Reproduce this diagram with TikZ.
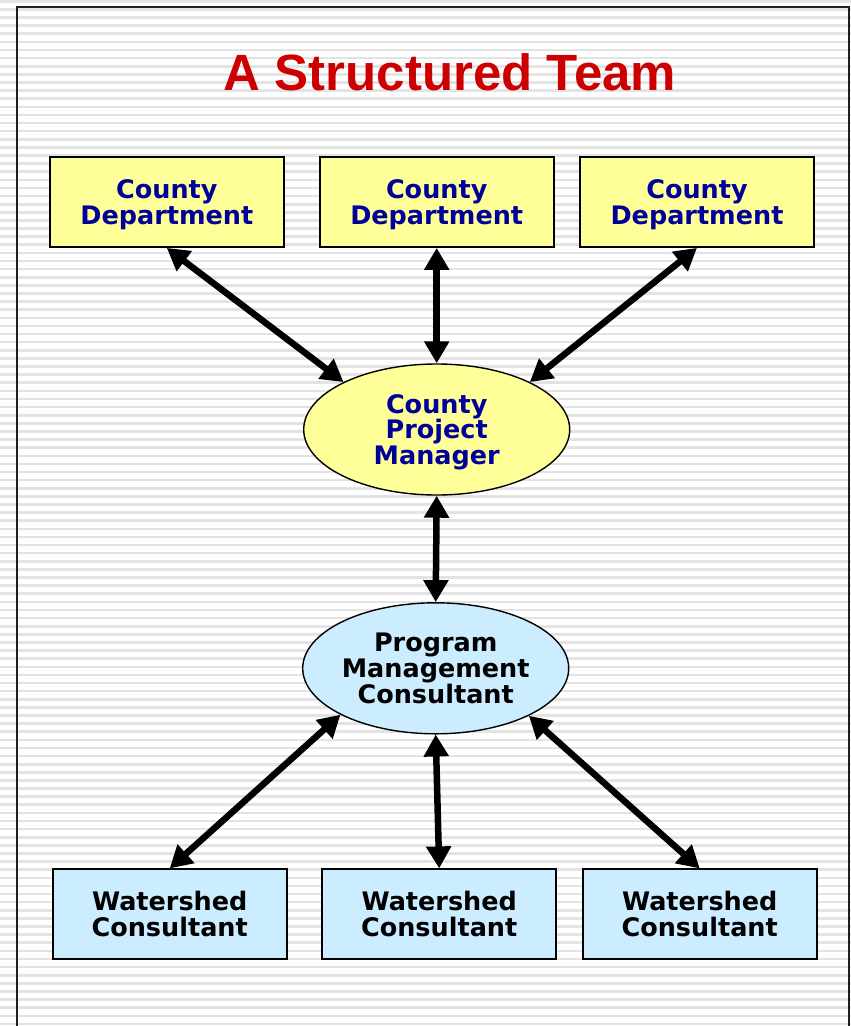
\documentclass[tikz,border=0pt]{standalone}
\usepackage{fontspec}
\usetikzlibrary{shapes.geometric,arrows.meta}
\newfontfamily\dvfont{DejaVu Sans}
\newfontfamily\lsfont{Liberation Sans}
\definecolor{yel}{HTML}{FFFF99}
\definecolor{lblue}{HTML}{CCECFF}
\definecolor{navy}{HTML}{000099}
\definecolor{ttred}{HTML}{CC0000}
\definecolor{stripe}{HTML}{E3E3E3}
\begin{document}
\begin{tikzpicture}[x=1pt,y=-1pt,
  boxnode/.style={draw=black, line width=1.8pt, rectangle, minimum width=234pt, minimum height=90pt,
    inner sep=0pt, align=center, font=\dvfont\bfseries\fontsize{25.5}{26}\selectfont},
  ellnode/.style={ellipse, draw=black, line width=1.4pt, minimum width=266pt, minimum height=131pt,
    inner xsep=-20pt, inner ysep=0pt, align=center, font=\dvfont\bfseries\fontsize{25.5}{25.7}\selectfont},
  ybox/.style={boxnode, fill=yel, text=navy, text depth=0pt},
  bbox/.style={boxnode, fill=lblue, text=black},
  arr/.style={line width=6.5pt, {Triangle[length=22pt,width=24pt]}-{Triangle[length=22pt,width=24pt]}}
]
\path[use as bounding box] (0,0) rectangle (851,1026);
\clip (0,0) rectangle (851,1026);
\fill[white] (0,0) rectangle (851,1026);
\foreach \k in {0,...,127} \fill[stripe] (0,{\k*8.116}) rectangle (851,{\k*8.116+2.6});
\draw[line width=2pt, black!88] (17,1040) -- (17,7.2) -- (848.7,7.2) -- (848.7,1040);

\node[font=\lsfont\bfseries\fontsize{51}{60}\selectfont, text=ttred, anchor=base] (title) at (450,90) {A Structured Team};

\node[ybox] (cd1) at (166.8,202) {County\\Department};
\node[ybox] (cd2) at (436.7,202) {County\\Department};
\node[ybox] (cd3) at (697,202) {County\\Department};

\node[ellnode, fill=yel, text=navy, text depth=0pt] (cpm) at (436.7,429.5) {County\\Project\\Manager};
\node[ellnode, fill=lblue, text=black] (pmc) at (435.7,668.3) {Program\\Management\\Consultant};

\node[bbox] (ws1) at (169.7,914.3) {Watershed\\Consultant};
\node[bbox] (ws2) at (439.2,914.3) {Watershed\\Consultant};
\node[bbox] (ws3) at (699.7,914.3) {Watershed\\Consultant};

\draw[arr] (cd1.south) -- (cpm.153);
\draw[arr] (cd2.south) -- (cpm.north);
\draw[arr] (cd3.south) -- (cpm.27);
\draw[arr] (cpm.south) -- (pmc.north);
\draw[arr] (pmc.206) -- (ws1.north);
\draw[arr] (pmc.south) -- (ws2.north);
\draw[arr] (pmc.333) -- (ws3.north);
\end{tikzpicture}
\end{document}
